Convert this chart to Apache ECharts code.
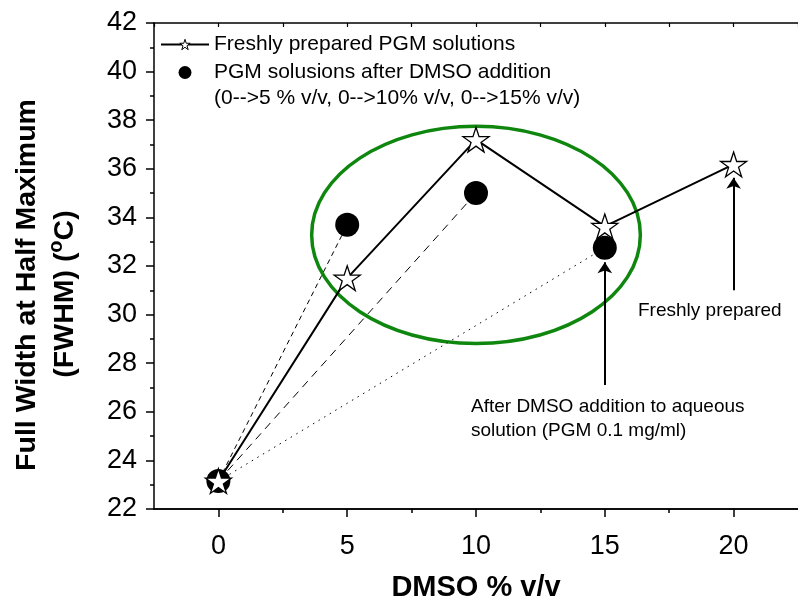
<!DOCTYPE html>
<html>
<head>
<meta charset="utf-8">
<script src="https://cdn.jsdelivr.net/npm/echarts@6/dist/echarts.min.js"></script>
<style>html,body{margin:0;padding:0;background:#fff}#c{width:798px;height:607px}</style>
</head>
<body>
<div id="c"></div>
<script>
// ---- data ----
const freshLevels = [0, 5, 10, 15, 20];
const freshFWHM = [23.15, 31.5, 37.2, 33.63, 36.18];
const afterLevels = [0, 5, 10, 15];
const afterFWHM = [23.15, 33.7, 35.0, 32.75];
const xTickLabels = [0, 5, 10, 15, 20];
const xMinorTicks = [2.5, 7.5, 12.5, 17.5];
const yTickLabels = [22, 24, 26, 28, 30, 32, 34, 36, 38, 40, 42];
const arrowAfterX = 15, arrowAfterY = [27.1, 32.15];
const arrowFreshX = 20, arrowFreshY = [31.0, 35.63];
const ellipseCenter = [10, 33.28];
const ellipseRadius = [6.38, 4.47];
const legendNames = ['Freshly prepared PGM solutions', 'PGM solusions after DMSO addition'];
const legendNote = '(0-->5 % v/v, 0-->10% v/v, 0-->15% v/v)';
const noteFresh = 'Freshly prepared';
const noteAfter = 'After DMSO addition to aqueous\nsolution (PGM 0.1 mg/ml)';

const FONT = 'Arial, "Liberation Sans", sans-serif';
const STAR = 'path://M50 0 L61.2 34.5 L97.6 34.5 L68.2 55.9 L79.4 90.5 L50 69.1 L20.6 90.5 L31.8 55.9 L2.4 34.5 L38.8 34.5 Z';

const fresh = freshLevels.map((x, i) => [x, freshFWHM[i]]);
const after = afterLevels.map((x, i) => [x, afterFWHM[i]]);
const dashTypes = [null, [5, 4], [8, 6], [1.5, 5]];
const connectors = after.slice(1).map((p, i) => ({
  type: 'line', data: [after[0], p], symbol: 'none', silent: true, z: 1,
  lineStyle: { color: '#000', width: 1, type: dashTypes[i + 1] }
}));

const XMIN = -2.5, XMAX = 22.5;
const baseX = { type: 'value', min: XMIN, max: XMAX, interval: 2.5, gridIndex: 0, splitLine: { show: false } };
const axisLine = { onZero: false, lineStyle: { color: '#000', width: 1.5 } };

const option = {
  animation: false,
  backgroundColor: '#fff',
  grid: { left: 152, top: 23, width: 653, height: 492, containLabel: false },
  legend: {
    orient: 'vertical', left: 155, top: 29, itemWidth: 48, itemHeight: 13, itemGap: 7,
    textStyle: { fontFamily: FONT, fontSize: 21, color: '#000' },
    data: [
      { name: legendNames[0], itemStyle: { color: '#fff', borderColor: '#000', borderWidth: 1 } },
      { name: legendNames[1], icon: 'circle', itemStyle: { color: '#000', opacity: 1 } }
    ]
  },
  xAxis: [
    Object.assign({}, baseX, {
      position: 'bottom',
      name: 'DMSO % v/v', nameLocation: 'middle', nameGap: 64,
      nameTextStyle: { fontFamily: FONT, fontWeight: 'bold', fontSize: 29, color: '#000' },
      axisLine: axisLine,
      axisTick: { show: true, inside: false, length: 8, customValues: xTickLabels, lineStyle: { color: '#000', width: 1.5 } },
      axisLabel: { customValues: xTickLabels, margin: 24, fontFamily: FONT, fontSize: 27, color: '#000' }
    }),
    Object.assign({}, baseX, {
      position: 'bottom',
      axisLine: axisLine,
      axisTick: { show: true, inside: false, length: 4, customValues: xMinorTicks, lineStyle: { color: '#000', width: 1.5 } },
      axisLabel: { show: false }
    }),
    Object.assign({}, baseX, {
      position: 'top',
      axisLine: axisLine,
      axisTick: { show: true, inside: true, length: 4, lineStyle: { color: '#000', width: 1.2 } },
      axisLabel: { show: false }
    })
  ],
  yAxis: {
    type: 'value', min: yTickLabels[0], max: yTickLabels[yTickLabels.length - 1], interval: 2,
    splitLine: { show: false },
    axisLine: axisLine,
    axisTick: { show: true, inside: false, length: 8, lineStyle: { color: '#000', width: 1.5 } },
    minorTick: { show: true, splitNumber: 2, length: 4, lineStyle: { color: '#000', width: 1.5 } },
    axisLabel: { margin: 17, fontFamily: FONT, fontSize: 27, color: '#000' },
    name: '{a|Full Width at Half Maximum}\n{a|(FWHM) (}{s|o}{a|C)}{p| }',
    nameLocation: 'middle', nameGap: 70, nameRotate: 90,
    nameTextStyle: {
      fontFamily: FONT, fontWeight: 'bold', fontSize: 28.5, color: '#000', lineHeight: 38,
      padding: [0, 38, 0, 0],
      rich: {
        a: { fontFamily: FONT, fontWeight: 'bold', fontSize: 28.5, color: '#000', lineHeight: 38 },
        s: { fontFamily: FONT, fontWeight: 'bold', fontSize: 20, color: '#000', lineHeight: 22, verticalAlign: 'top' },
        p: { fontFamily: FONT, fontSize: 10, width: 18, lineHeight: 38 }
      }
    }
  },
  series: connectors.concat([
    {
      name: legendNames[1], type: 'scatter', data: after, symbol: 'circle', symbolSize: 24, z: 3,
      itemStyle: { color: '#000', opacity: 1 }
    },
    {
      name: legendNames[0], type: 'line', data: fresh, symbol: STAR, symbolSize: 26, symbolKeepAspect: true, z: 4,
      itemStyle: { color: '#fff', borderColor: '#000', borderWidth: 1.3 },
      lineStyle: { color: '#000', width: 2 },
      markLine: {
        silent: true, symbol: ['none', 'arrow'], symbolSize: 11,
        label: { show: false },
        lineStyle: { color: '#000', width: 2, type: 'solid' },
        data: [
          [{ coord: [arrowAfterX, arrowAfterY[0]] }, { coord: [arrowAfterX, arrowAfterY[1]] }],
          [{ coord: [arrowFreshX, arrowFreshY[0]] }, { coord: [arrowFreshX, arrowFreshY[1]] }]
        ]
      }
    }
  ])
};

const chart = echarts.init(document.getElementById('c'), null, { renderer: 'canvas' });
chart.setOption(option);
const c = chart.convertToPixel({ gridIndex: 0 }, ellipseCenter);
const e = chart.convertToPixel({ gridIndex: 0 }, [ellipseCenter[0] + ellipseRadius[0], ellipseCenter[1] + ellipseRadius[1]]);
chart.setOption({
  graphic: [
    { type: 'ellipse', silent: true, z: 1,
      shape: { cx: c[0], cy: c[1], rx: e[0] - c[0], ry: c[1] - e[1] },
      style: { fill: 'none', stroke: '#0f870f', lineWidth: 3.5 } },
    { type: 'text', x: 214, y: 98, silent: true,
      style: { text: legendNote, fontFamily: FONT, fontSize: 21, fill: '#000', verticalAlign: 'middle', align: 'left' } },
    { type: 'text', x: 638, y: 311, silent: true,
      style: { text: noteFresh, fontFamily: FONT, fontSize: 19, fill: '#000', verticalAlign: 'middle', align: 'left' } },
    { type: 'text', x: 471, y: 395, silent: true,
      style: { text: noteAfter, fontFamily: FONT, fontSize: 19, lineHeight: 24, fill: '#000', verticalAlign: 'top', align: 'left' } }
  ]
});
</script>
</body>
</html>
